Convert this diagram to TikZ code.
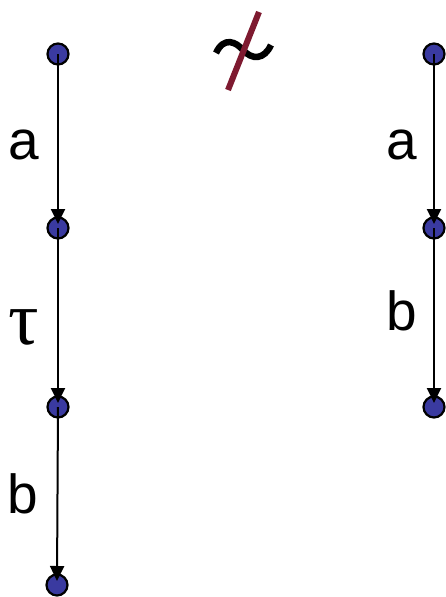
\documentclass[tikz,border=0pt]{standalone}
\usepackage{fontspec}
\setmainfont{Liberation Sans}
\newfontfamily\taufont{Liberation Serif}
\usetikzlibrary{arrows.meta}
\definecolor{statefill}{HTML}{3A3AA0}
\definecolor{slashred}{HTML}{7E1A30}
\tikzset{
  state/.style={circle,draw=black,line width=2.2pt,fill=statefill,minimum size=21pt,inner sep=0pt},
  trans/.style={line width=2pt,-{Triangle[length=15pt,width=14pt]}},
  lbl/.style={anchor=base west,inner sep=0pt,font=\fontsize{55}{60}\selectfont}
}
\begin{document}
\begin{tikzpicture}[x=1pt,y=-1pt]
\useasboundingbox (0,0) rectangle (445,597);
% left column
\node[state] (l1) at (58,54) {};
\node[state] (l2) at (58,228) {};
\node[state] (l3) at (58,407) {};
\node[state] (l4) at (57,585) {};
% right column
\node[state] (r1) at (434,54) {};
\node[state] (r2) at (434,228) {};
\node[state] (r3) at (434,407) {};
% transitions
\draw[trans] (l1.center) -- ([yshift=4pt]l2.center);
\draw[trans] (l2.center) -- ([yshift=4pt]l3.center);
\draw[trans] (l3.center) -- ([yshift=4pt]l4.center);
\draw[trans] (r1.center) -- ([yshift=4pt]r2.center);
\draw[trans] (r2.center) -- ([yshift=4pt]r3.center);
% labels
\node[lbl] (la) at (8,159) {a};
\node[lbl,font=\fontsize{76}{80}\selectfont\taufont] (lt) at (8,344) {τ};
\node[lbl] (lb) at (7,513) {b};
\node[lbl] (ra) at (386,159) {a};
\node[lbl] (rb) at (386,330) {b};
% not-equivalent symbol
\coordinate (t1) at (216,53);
\coordinate (t2) at (271,45);
\draw[line width=6.5pt,line cap=butt] (t1) .. controls (224,36) and (236,42) .. (243,50)
  .. controls (252,60) and (264,60) .. (t2);
\coordinate (s1) at (259,12);
\coordinate (s2) at (228,90);
\draw[slashred,line width=6pt] (s1) -- (s2);
\end{tikzpicture}
\end{document}
